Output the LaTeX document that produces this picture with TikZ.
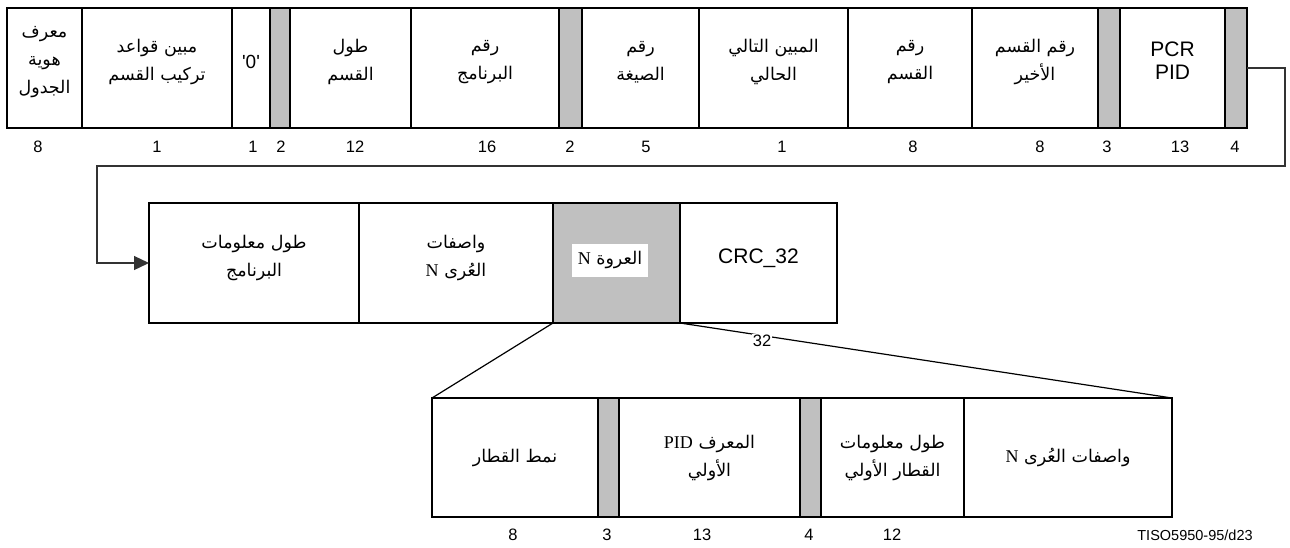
\documentclass[tikz,border=0pt]{standalone}
\usepackage{fontspec}
\setmainfont{Liberation Sans}
\newfontfamily\arabicfont[Script=Arabic]{DejaVu Sans}
\newfontfamily\latinserif{Liberation Serif}
\TeXXeTstate=1
\usetikzlibrary{arrows.meta}
\definecolor{padgray}{HTML}{C0C0C0}
\definecolor{linegray}{HTML}{333333}
% one right-to-left line of Arabic text
\newcommand\ar[1]{{\arabicfont\beginR #1\endR}}
% a Latin letter group set in the serif face inside Arabic text
\newcommand\lt[1]{{\latinserif\fontsize{18}{20}\selectfont\beginL #1\endL}}
\begin{document}
\begin{tikzpicture}[x=1pt,y=-1pt,
  field/.style={draw=black, line width=1.6pt, inner sep=0pt, outer sep=0pt,
                anchor=north west, minimum height=120pt},
  pad/.style={field, fill=padgray},
  conn/.style={draw=linegray, line width=1.3pt},
  fan/.style={draw=black, line width=1.2pt},
  num/.style={font=\fontsize{16.5}{18}\selectfont, inner sep=0pt},
  lbl/.style={align=center, inner sep=0pt, font=\fontsize{17.5}{28}\selectfont},
  lat/.style={align=center, inner sep=0pt, font=\fontsize{21}{23}\selectfont}]
\useasboundingbox (0,0) rectangle (1290,547);

% ---- program map section header (top row)
\node[field, minimum width=75pt]  (f1)  at (7,8)    {};
\node[field, minimum width=150pt] (f2)  at (82,8)   {};
\node[field, minimum width=38pt]  (f3)  at (232,8)  {};
\node[pad,   minimum width=20pt]  (f4)  at (270,8)  {};
\node[field, minimum width=121pt] (f5)  at (290,8)  {};
\node[field, minimum width=148pt] (f6)  at (411,8)  {};
\node[pad,   minimum width=23pt]  (f7)  at (559,8)  {};
\node[field, minimum width=117pt] (f8)  at (582,8)  {};
\node[field, minimum width=149pt] (f9)  at (699,8)  {};
\node[field, minimum width=124pt] (f10) at (848,8)  {};
\node[field, minimum width=126pt] (f11) at (972,8)  {};
\node[pad,   minimum width=22pt]  (f12) at (1098,8) {};
\node[field, minimum width=105pt] (f13) at (1120,8) {};
\node[pad,   minimum width=22pt]  (f14) at (1225,8) {};

\node[lbl] (t1)  at ([yshift=6pt]f1.center)  {\ar{معرف}\\\ar{هوية}\\\ar{الجدول}};
\node[lbl] (t2)  at ([yshift=6pt]f2.center)  {\ar{مبين قواعد}\\\ar{تركيب القسم}};
\node[lat, font=\fontsize{19}{22}\selectfont] (t3) at ([yshift=6pt]f3.center)
  {\textquotesingle 0\textquotesingle};
\node[lbl] (t5)  at ([yshift=6pt]f5.center)  {\ar{طول}\\\ar{القسم}};
\node[lbl] (t6)  at ([yshift=6pt]f6.center)  {\ar{رقم}\\\ar{البرنامج}};
\node[lbl] (t8)  at ([yshift=6pt]f8.center)  {\ar{رقم}\\\ar{الصيغة}};
\node[lbl] (t9)  at ([yshift=6pt]f9.center)  {\ar{المبين التالي}\\\ar{الحالي}};
\node[lbl] (t10) at ([yshift=6pt]f10.center) {\ar{رقم}\\\ar{القسم}};
\node[lbl] (t11) at ([yshift=6pt]f11.center) {\ar{رقم القسم}\\\ar{الأخير}};
\node[lat] (t13) at ([yshift=7pt]f13.center) {PCR\\PID};

\foreach \x/\t [count=\i] in {38/8,157/1,253/1,281/2,355/12,487/16,570/2,646/5,
                               782/1,913/8,1040/8,1107/3,1180/13,1235/4}
  \node[num] (nt\i) at (\x,147) {\t};

% ---- program info and loop (middle row)
\node[field, minimum width=210pt] (m1) at (149,203) {};
\node[field, minimum width=194pt] (m2) at (359,203) {};
\node[pad,   minimum width=127pt] (m3) at (553,203) {};
\node[field, minimum width=157pt] (m4) at (680,203) {};

\node[lbl] (u1) at ([yshift=5pt]m1.center) {\ar{طول معلومات}\\\ar{البرنامج}};
\node[lbl] (u2) at ([yshift=5pt]m2.center) {\ar{واصفات}\\\ar{العُرى \lt{N}}};
\node[lbl, fill=white, minimum width=76pt, minimum height=33pt] (u3) at (610,260)
  {\ar{العروة \lt{N}}};
\node[lat] (u4) at ([yshift=5pt]m4.center) {CRC\_32};

% ---- one loop entry (bottom row)
\node[field, minimum width=166pt, minimum height=119pt] (b1) at (432,398) {};
\node[pad,   minimum width=21pt,  minimum height=119pt] (b2) at (598,398) {};
\node[field, minimum width=181pt, minimum height=119pt] (b3) at (619,398) {};
\node[pad,   minimum width=21pt,  minimum height=119pt] (b4) at (800,398) {};
\node[field, minimum width=143pt, minimum height=119pt] (b5) at (821,398) {};
\node[field, minimum width=208pt, minimum height=119pt] (b6) at (964,398) {};

\node[lbl] (v1) at (b1.center) {\ar{نمط القطار}};
\node[lbl] (v3) at (b3.center) {\ar{المعرف \lt{PID}}\\\ar{الأولي}};
\node[lbl] (v5) at (b5.center) {\ar{طول معلومات}\\\ar{القطار الأولي}};
\node[lbl] (v6) at (b6.center) {\ar{واصفات العُرى \lt{N}}};

\foreach \x/\t [count=\i] in {513/8,607/3,702/13,809/4,892/12}
  \node[num] (nb\i) at (\x,535) {\t};
\node[font=\fontsize{14.5}{16}\selectfont, inner sep=0pt] (tag) at (1195,535) {TISO5950-95/d23};

% ---- connectors
\coordinate (turnR) at (1285,68);
\coordinate (turnL) at (97,166);
\draw[conn, -{Triangle[length=15pt,width=14pt]}]
  (f14.east) -- (turnR) |- (turnL) |- (m1.west);

\draw[fan] (m3.south west) -- (b1.north west);
\draw[fan] (m3.south east) -- (b6.north east);
\node[num, fill=white, inner sep=1pt] (w32) at (762,341) {32};
\end{tikzpicture}
\end{document}
